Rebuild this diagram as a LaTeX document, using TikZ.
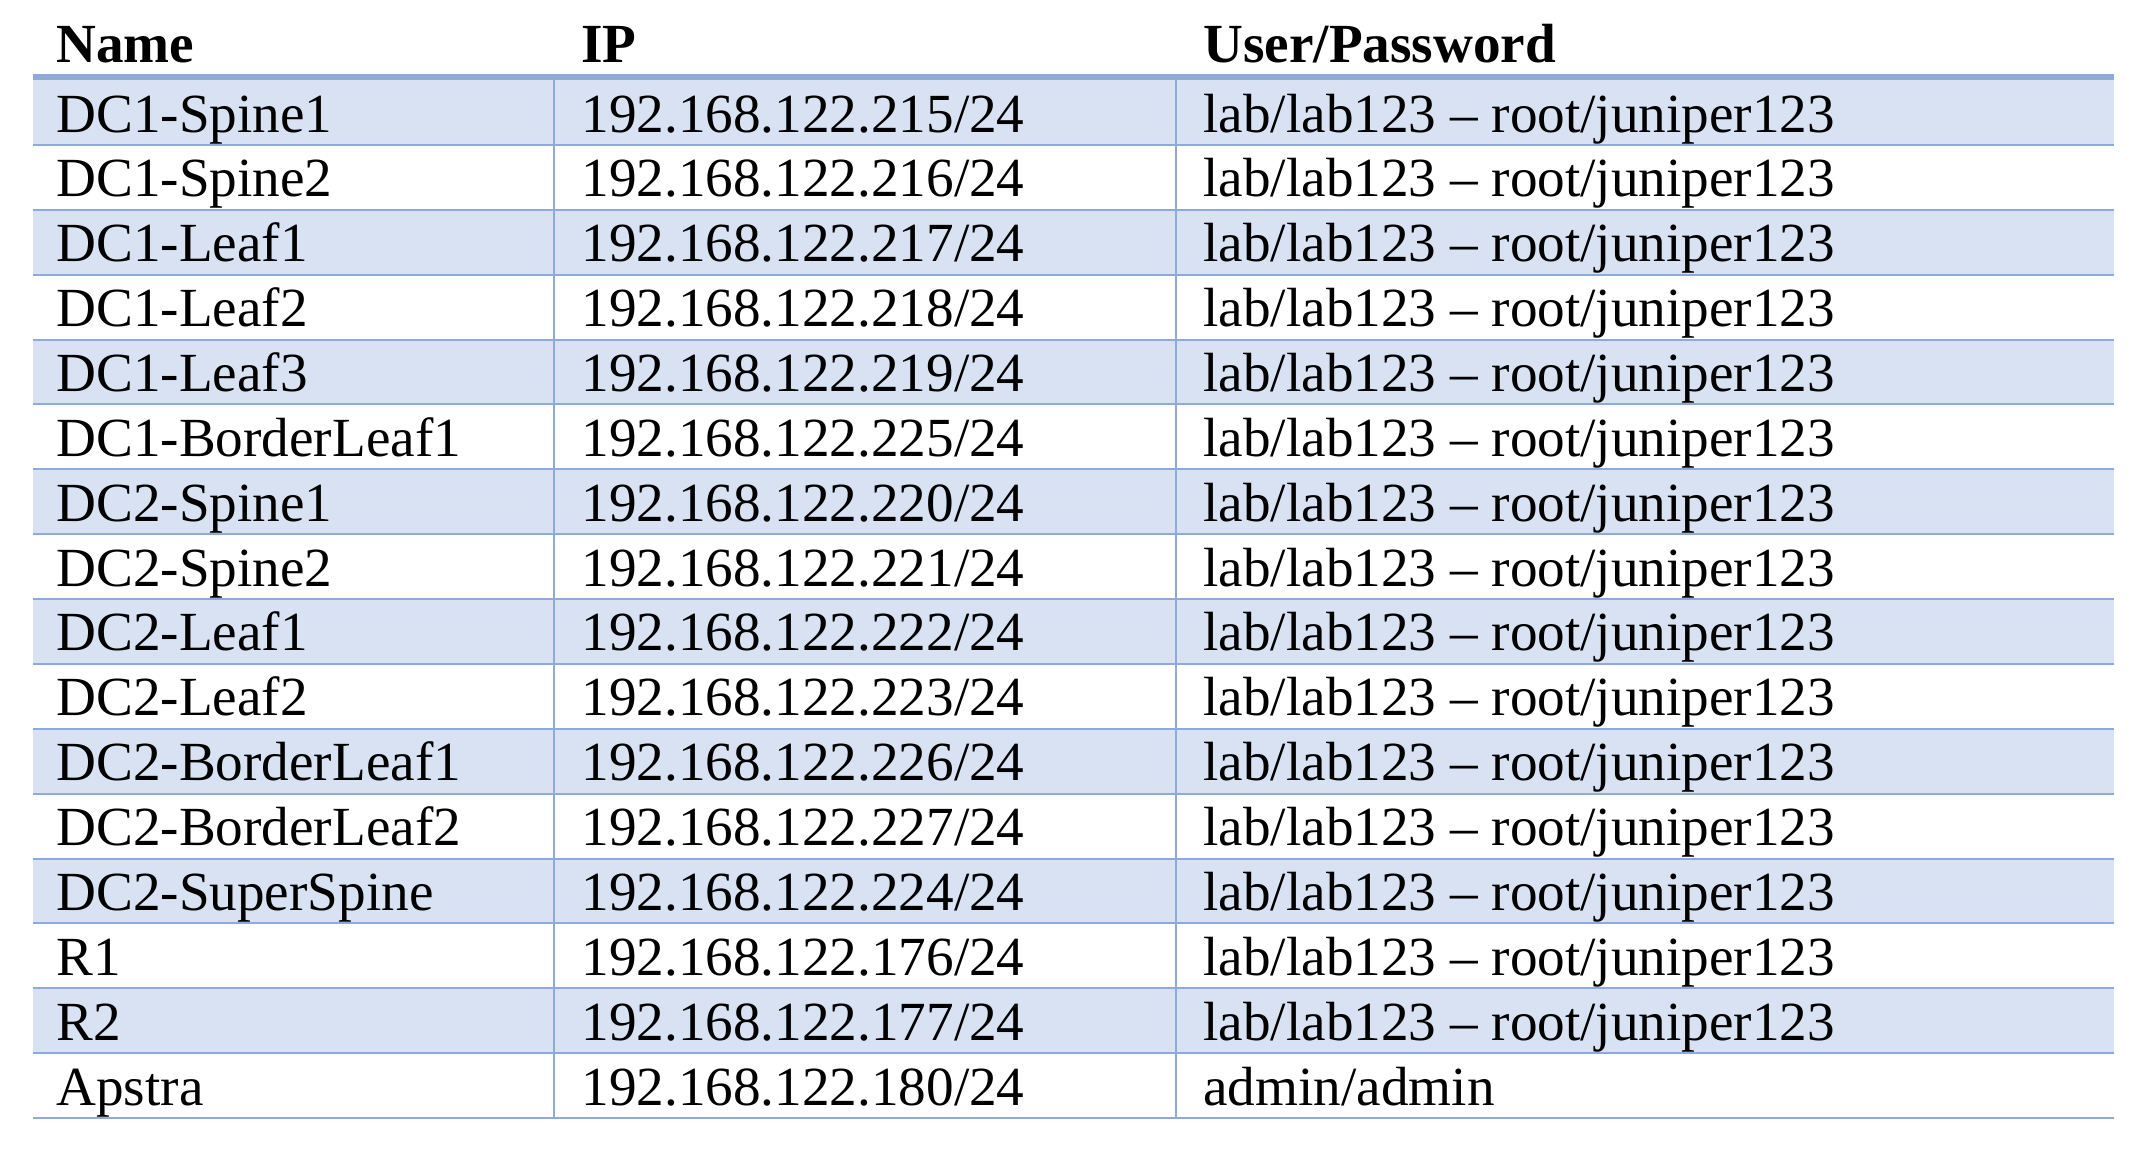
\documentclass[tikz,border=0pt]{standalone}
\usepackage{fontspec}
\setmainfont{Liberation Serif}
\definecolor{bandfill}{HTML}{D9E2F3}
\definecolor{rulecol}{HTML}{8EAADB}
\begin{document}
\begin{tikzpicture}[x=0.5pt,y=-0.5pt,
  cell/.style={anchor=base west, inner sep=0pt, font=\fontsize{27.6}{33}\selectfont},
  headcell/.style={anchor=base west, inner sep=0pt, font=\fontsize{27.6}{33}\selectfont\bfseries},
  band/.style={fill=bandfill},
  thinrule/.style={draw=rulecol, line width=1pt},
  thickrule/.style={draw=rulecol, line width=2.6pt}]
\useasboundingbox (0,0) rectangle (2142,1152);
\def\pitch{64.87}
% banded fills (odd rows)
\foreach \i in {1,3,...,15}{
  \fill[band] (33,{145+\pitch*(\i-1)-\pitch}) rectangle (2114,{145+\pitch*(\i-1)});
}
% horizontal rules
\foreach \i in {1,...,16}{
  \draw[thinrule] (33,{145+\pitch*(\i-1)}) -- (2114,{145+\pitch*(\i-1)});
}
% vertical rules
\draw[thinrule] (554,77) -- (554,{145+\pitch*15});
\draw[thinrule] (1176,77) -- (1176,{145+\pitch*15});
% header rule
\draw[thickrule] (33,77) -- (2114,77);
% header
\node[headcell] (hname) at (56,62) {Name};
\node[headcell] (hip) at (581,62) {IP};
\node[headcell] (hup) at (1203,62) {User/Password};
% rows
\newcommand\tabrow[4]{%
  \node[cell] (nm#1) at (56,{145+\pitch*(#1-1)-13}) {#2};
  \node[cell] (ip#1) at (581,{145+\pitch*(#1-1)-13}) {#3};
  \node[cell] (up#1) at (1203,{145+\pitch*(#1-1)-13}) {#4};
}
\tabrow{1}{DC1-Spine1}{192.168.122.215/24}{lab/lab123 – root/juniper123}
\tabrow{2}{DC1-Spine2}{192.168.122.216/24}{lab/lab123 – root/juniper123}
\tabrow{3}{DC1-Leaf1}{192.168.122.217/24}{lab/lab123 – root/juniper123}
\tabrow{4}{DC1-Leaf2}{192.168.122.218/24}{lab/lab123 – root/juniper123}
\tabrow{5}{DC1-Leaf3}{192.168.122.219/24}{lab/lab123 – root/juniper123}
\tabrow{6}{DC1-BorderLeaf1}{192.168.122.225/24}{lab/lab123 – root/juniper123}
\tabrow{7}{DC2-Spine1}{192.168.122.220/24}{lab/lab123 – root/juniper123}
\tabrow{8}{DC2-Spine2}{192.168.122.221/24}{lab/lab123 – root/juniper123}
\tabrow{9}{DC2-Leaf1}{192.168.122.222/24}{lab/lab123 – root/juniper123}
\tabrow{10}{DC2-Leaf2}{192.168.122.223/24}{lab/lab123 – root/juniper123}
\tabrow{11}{DC2-BorderLeaf1}{192.168.122.226/24}{lab/lab123 – root/juniper123}
\tabrow{12}{DC2-BorderLeaf2}{192.168.122.227/24}{lab/lab123 – root/juniper123}
\tabrow{13}{DC2-SuperSpine}{192.168.122.224/24}{lab/lab123 – root/juniper123}
\tabrow{14}{R1}{192.168.122.176/24}{lab/lab123 – root/juniper123}
\tabrow{15}{R2}{192.168.122.177/24}{lab/lab123 – root/juniper123}
\tabrow{16}{Apstra}{192.168.122.180/24}{admin/admin}
\end{tikzpicture}
\end{document}
